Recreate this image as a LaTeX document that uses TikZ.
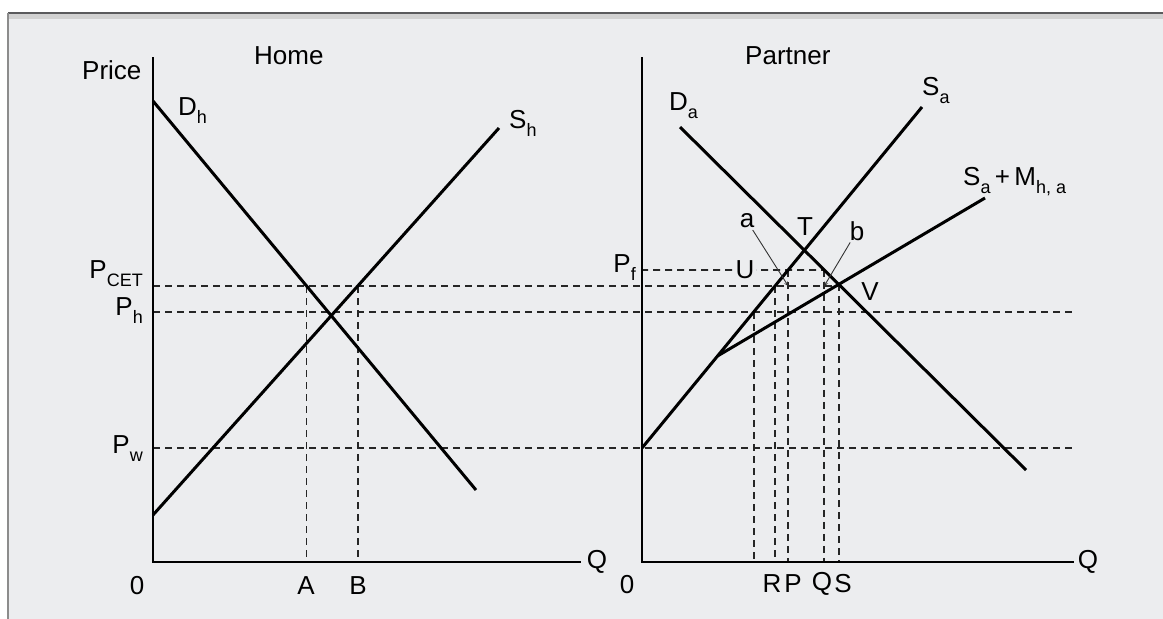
\documentclass[tikz,border=0pt]{standalone}
\usepackage{fontspec}
\setmainfont{Liberation Sans}
\usetikzlibrary{arrows,calc}
\definecolor{paper}{RGB}{236,237,239}
\definecolor{edge}{RGB}{90,90,92}
\newcommand{\subidx}[1]{\raisebox{-0.32em}{\fontsize{18}{20}\selectfont #1}}

\begin{document}
\begin{tikzpicture}[x=1pt, y=-1pt, >=stealth,
    curve/.style={line width=3pt, black},
    axis/.style={line width=2pt, black},
    guide/.style={line width=1.6pt, black!85, dash pattern=on 7pt off 5pt},
    pointer/.style={->, line width=0.9pt, black!80, shorten <=2pt},
    lbl/.style={font=\fontsize{26}{30}\selectfont, inner sep=0pt, text=black}]
    \useasboundingbox (0,0) rectangle (1163,619);
    % page of the book
    \fill[white] (0,0) rectangle (1163,619);
    \fill[paper] (8,13) rectangle (1163,619);
    \fill[black!18] (8,13) rectangle (1163,19);
    \draw[line width=2.5pt, edge] (8,13) -- (1163,13);
    \draw[line width=1.5pt, black!45] (8,13) -- (8,619);

    % price levels
    \def\ycet{286}
    \def\yh{312}
    \def\yw{448}
    \def\yf{270}
    \coordinate (cetL) at (153,\ycet);  \coordinate (cetR) at (1100,\ycet);
    \coordinate (phL) at (153,\yh);     \coordinate (phR) at (1073,\yh);
    \coordinate (pwL) at (153,\yw);     \coordinate (pwR) at (1073,\yw);
    \coordinate (pfL) at (641,\yf);     \coordinate (pfR) at (1100,\yf);

    % axes
    \coordinate (o1) at (153,562);  \coordinate (top1) at (153,57);  \coordinate (end1) at (581,562);
    \coordinate (o2) at (642,562);  \coordinate (top2) at (642,57);  \coordinate (end2) at (1074,562);

    % demand and supply
    \coordinate (dh1) at (153,101);  \coordinate (dh2) at (476,490);
    \coordinate (sh1) at (153,515);  \coordinate (sh2) at (499,128);
    \coordinate (da1) at (680,127);  \coordinate (da2) at (1026,470);
    \coordinate (sa1) at (642,448);  \coordinate (sa2) at (922,107);
    \coordinate (sm1) at ($(sa1)!0.27!(sa2)$);
    \coordinate (sm2) at (985,198);

    % crossings
    \coordinate (cutA) at (intersection of dh1--dh2 and cetL--cetR);
    \coordinate (cutB) at (intersection of sh1--sh2 and cetL--cetR);
    \coordinate (T) at (intersection of da1--da2 and sa1--sa2);
    \coordinate (V) at (intersection of da1--da2 and sm1--sm2);
    \coordinate (cutK) at (intersection of sa1--sa2 and phL--phR);
    \coordinate (cutR) at (intersection of sa1--sa2 and cetL--cetR);
    \coordinate (cutP) at (intersection of sa1--sa2 and pfL--pfR);
    \coordinate (cutQ) at (intersection of da1--da2 and pfL--pfR);
    \coordinate (atip) at (cutP |- cetL);
    \coordinate (btip) at (cutQ |- cetL);

    % dashed guides
    \draw[guide] (cetL) -- (cetL -| V);
    \draw[guide] (phL) -- (phR);
    \draw[guide] (pwL) -- (pwR);
    \draw[guide] (pfL) -- (cutQ);
    \foreach \c in {cutA,cutB,cutK,cutR,cutP,cutQ,V}
        \draw[guide] (\c) -- (\c |- o1);

    \draw[axis] (top1) -- (o1) -- (end1);
    \draw[axis] (top2) -- (o2) -- (end2);
    \draw[curve] (dh1) -- (dh2);
    \draw[curve] (sh1) -- (sh2);
    \draw[curve] (da1) -- (da2);
    \draw[curve] (sa1) -- (sa2);
    \draw[curve] (sm1) -- (sm2);

    % labels
    \node[lbl, anchor=base west] (price) at (82,79) {Price};
    \node[lbl, anchor=base west] (home) at (254,64) {Home};
    \node[lbl, anchor=base west] (partner) at (745,64) {Partner};
    \node[lbl, anchor=base west] (dhlabel) at (178,115) {D\subidx{h}};
    \node[lbl, anchor=base west] (shlabel) at (509,128) {S\subidx{h}};
    \node[lbl, anchor=base west] (dalabel) at (669,110) {D\subidx{a}};
    \node[lbl, anchor=base west] (salabel) at (922,95) {S\subidx{a}};
    \node[lbl, anchor=base west] (smlabel) at (963,185) {S\subidx{a}\,+\,M\subidx{h, a}};
    \node[lbl, anchor=base east] (pcet) at (143,278) {P\subidx{CET}};
    \node[lbl, anchor=base east] (ph) at (143,315) {P\subidx{h}};
    \node[lbl, anchor=base east] (pw) at (143,453) {P\subidx{w}};
    \node[lbl, anchor=base east] (pf) at (636,272) {P\subidx{f}};
    \node[lbl, fill=paper, inner sep=1.5pt] (ulabel) at (745,270) {U};
    \node[lbl] (tlabel) at (805,227) {T};
    \node[lbl] (vlabel) at (870,292) {V};
    \node[lbl] (alabel) at (747,221) {a};
    \node[lbl] (blabel) at (857,231) {b};
    \draw[pointer] (alabel) -- (atip);
    \draw[pointer] (blabel) -- (btip);

    \node[lbl] (zero1) at (137,586) {0};
    \node[lbl] (qa) at (306,586) {A};
    \node[lbl] (qb) at (358,586) {B};
    \node[lbl] (q1) at (597,562) {Q};
    \node[lbl] (zero2) at (627,585) {0};
    \node[lbl] (qr) at (772,584) {R};
    \node[lbl] (qp) at (793,584) {P};
    \node[lbl] (qq) at (822,584) {Q};
    \node[lbl] (qs) at (843,584) {S};
    \node[lbl] (q2) at (1088,562) {Q};
\end{tikzpicture}
\end{document}
